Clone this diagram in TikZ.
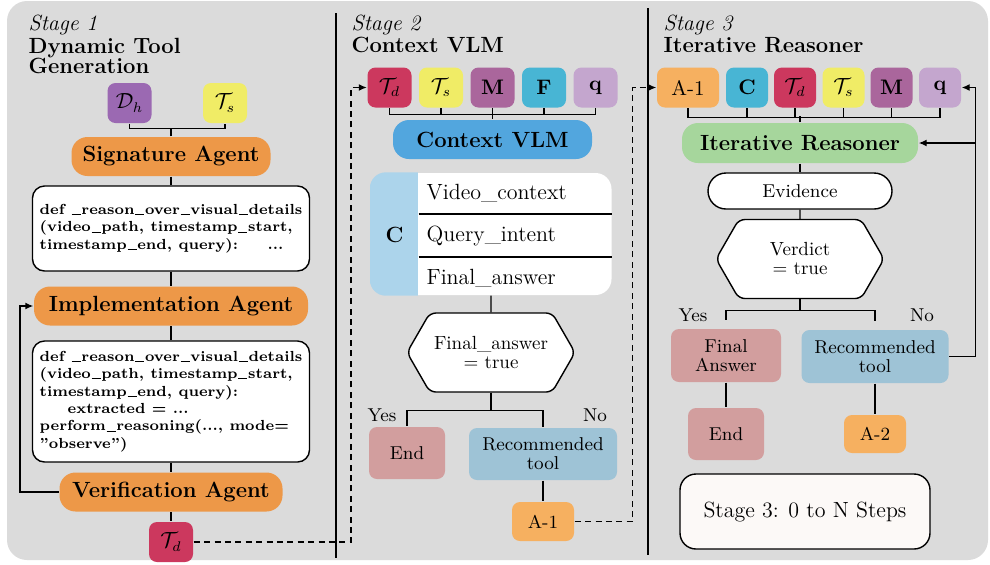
\documentclass[tikz,border=0pt]{standalone}
\usetikzlibrary{arrows.meta,shapes.symbols}
\definecolor{bggray}{RGB}{219,219,219}
\definecolor{dhpurple}{RGB}{155,105,178}
\definecolor{tsyellow}{RGB}{240,236,102}
\definecolor{tdred}{RGB}{204,56,94}
\definecolor{mpurple}{RGB}{170,102,156}
\definecolor{fcyan}{RGB}{72,181,212}
\definecolor{qlilac}{RGB}{196,166,206}
\definecolor{aorange}{RGB}{246,176,96}
\definecolor{agentorange}{RGB}{237,152,72}
\definecolor{vlmblue}{RGB}{82,166,222}
\definecolor{ctblue}{RGB}{172,212,235}
\definecolor{irgreen}{RGB}{166,214,156}
\definecolor{endpink}{RGB}{210,158,158}
\definecolor{recblue}{RGB}{158,195,214}
\definecolor{stagefill}{RGB}{252,249,247}
\newcommand{\usc}{\kern0.05em\rule[-0.08ex]{0.62em}{0.4pt}\kern0.05em}
\begin{document}
\begin{tikzpicture}[x=0.5pt,y=-0.5pt,line width=0.7pt,
  tok/.style={rounded corners=4pt, minimum width=22pt, minimum height=20pt, inner sep=0pt, font=\fontsize{10.5}{12}\selectfont},
  agent/.style={fill=agentorange, rounded corners=8pt, minimum height=19.5pt, inner sep=0pt, font=\fontsize{11}{12}\selectfont\bfseries},
  codebox/.style={draw, fill=white, rounded corners=6pt, minimum width=138.5pt, inner sep=0pt, align=left, font=\fontsize{7.3}{8.7}\selectfont\bfseries},
  flow/.style={rounded corners=4pt, inner sep=0pt, align=center, font=\fontsize{9.3}{9.5}\selectfont},
  hexa/.style={draw, fill=white, shape=signal, signal to=east and west, signal pointer angle=120, rounded corners=3pt, inner sep=0pt, minimum width=84pt, minimum height=39.5pt, align=center, font=\fontsize{9.5}{9.5}\selectfont},
  lbl/.style={inner sep=0pt, font=\fontsize{9.3}{10}\selectfont},
  head/.style={anchor=base west, inner sep=0pt, font=\fontsize{11}{12}\selectfont},
  row/.style={anchor=west, inner sep=0pt, font=\fontsize{11}{12}\selectfont},
  feed/.style={-{Latex[length=4pt,width=3.5pt]}},
  link/.style={dash pattern=on 3pt off 2.2pt, -{Latex[length=4pt,width=3.5pt]}}]

\useasboundingbox (0,0) rectangle (990,564);
\fill[bggray, rounded corners=10pt] (7,1) rectangle (988,560);
\draw (336,13) -- (336,558);
\draw (648,8) -- (648,555);

\begin{scope}
  \node[head] (s1) at (28,30) {\textit{Stage 1}};
  \node[head] (t1a) at (28,53) {\textbf{Dynamic Tool}};
  \node[head] (t1b) at (28,73) {\textbf{Generation}};

  \node[tok, fill=dhpurple] (dh) at (129.5,103) {$\mathcal{D}_h$};
  \node[tok, fill=tsyellow] (ts1) at (225,103) {$\mathcal{T}_s$};
  \node[agent, minimum width=99.5pt] (sig) at (171,156.5) {Signature Agent};
  \node[codebox, minimum height=42.5pt] (code1) at (171,228.5) {def \usc reason\usc over\usc visual\usc details\\(video\usc path, timestamp\usc start,\\timestamp\usc end, query): \quad\ ...};
  \node[agent, minimum width=137pt] (impl) at (171,306) {Implementation Agent};
  \node[codebox, minimum height=60.5pt] (code2) at (171,401.5) {def \usc reason\usc over\usc visual\usc details\\(video\usc path, timestamp\usc start,\\timestamp\usc end, query):\\\hspace*{14pt}extracted = ...\\perform\usc reasoning(..., mode=\\"observe")};
  \node[agent, minimum width=111.5pt] (verif) at (171,492) {Verification Agent};
  \node[tok, fill=tdred] (td1) at (171,542) {$\mathcal{T}_d$};

  \draw (dh.south) -- ++(0,5) -| (ts1.south);
  \draw (sig.north) -- (sig.north |- 0,128);
  \draw (sig) -- (code1);
  \draw (code1) -- (impl);
  \draw (impl) -- (code2);
  \draw (code2) -- (verif);
  \draw (verif) -- (td1);
  \draw[feed] (verif.west) -- ++(-39,0) |- (impl.west);
\end{scope}

\begin{scope}
  \node[head] (s2) at (351,30) {\textit{Stage 2}};
  \node[head] (t2) at (351,52) {\textbf{Context VLM}};

  \node[tok, fill=tdred] (td2) at (389.5,87.5) {$\mathcal{T}_d$};
  \node[tok, fill=tsyellow] (ts2) at (441,87.5) {$\mathcal{T}_s$};
  \node[tok, fill=mpurple] (m2) at (492.5,87.5) {\textbf{M}};
  \node[tok, fill=fcyan] (f2) at (544,87.5) {\textbf{F}};
  \node[tok, fill=qlilac] (q2) at (595.5,87.5) {\textbf{q}};
  \node[agent, fill=vlmblue, minimum width=99.5pt] (cvlm) at (492.5,139.5) {Context VLM};

  \draw (td2.south) -- ++(0,6) -| (q2.south);
  \foreach \n in {ts2,f2} \draw (\n.south) -- ++(0,6);
  \draw (m2) -- (cvlm);

  \node[fill=white, rounded corners=8pt, minimum width=120.5pt, minimum height=61pt, inner sep=0pt] (ctab) at (491,234) {};
  \begin{scope}
    \clip[rounded corners=8pt] (ctab.south west) rectangle (ctab.north east);
    \fill[ctblue] (ctab.south west) rectangle ([xshift=24pt]ctab.north west);
  \end{scope}
  \draw (418.5,214) -- (611.5,214);
  \draw (418.5,257) -- (611.5,257);
  \node[font=\fontsize{11}{12}\selectfont\bfseries] (cc) at (394.5,235) {C};
  \node[row] (vc) at (426,193) {Video\_context};
  \node[row] (qi) at (426,236) {Query\_intent};
  \node[row] (fan) at (426,278) {Final\_answer};

  \node[hexa] (fa2) at (491,352.5) {Final\_answer\\= true};
  \draw (ctab) -- (fa2);
  \node[flow, fill=endpink, minimum width=38pt, minimum height=26pt] (end2) at (407,453) {End};
  \node[flow, fill=recblue, minimum width=74pt, minimum height=26pt] (rec2) at (543,454) {Recommended\\tool};
  \node[flow, fill=aorange, minimum width=31pt, minimum height=19.5pt] (a12) at (543,521.5) {A-1};
  \node[lbl] (yes2) at (382,415) {Yes};
  \node[lbl] (no2) at (595,415) {No};

  \draw (fa2.south) -- ++(0,18) -| (end2.north);
  \draw (fa2.south) -- ++(0,18) -| (rec2.north);
  \draw (rec2) -- (a12);
\end{scope}

\begin{scope}
  \node[head] (s3) at (663,30) {\textit{Stage 3}};
  \node[head] (t3) at (663,52) {\textbf{Iterative Reasoner}};

  \node[tok, fill=aorange, minimum width=31pt] (a13) at (688,87.5) {A-1};
  \node[tok, fill=fcyan, minimum width=21pt] (c3) at (747,87.5) {\textbf{C}};
  \node[tok, fill=tdred, minimum width=21pt] (td3) at (795,87.5) {$\mathcal{T}_d$};
  \node[tok, fill=tsyellow, minimum width=21pt] (ts3) at (843.5,87.5) {$\mathcal{T}_s$};
  \node[tok, fill=mpurple, minimum width=21pt] (m3) at (891.5,87.5) {\textbf{M}};
  \node[tok, fill=qlilac, minimum width=21pt] (q3) at (940,87.5) {\textbf{q}};
  \node[agent, fill=irgreen, minimum width=118pt, minimum height=20pt] (ir) at (800,143) {Iterative Reasoner};

  \draw (a13.south) -- ++(0,9) -| (q3.south);
  \foreach \n in {c3,td3,ts3,m3} \draw (\n.south) -- ++(0,9);
  \draw (ir.north) -- (ir.north |- 0,116);

  \node[draw, fill=white, rounded corners=9pt, minimum width=92pt, minimum height=18pt, inner sep=0pt, font=\fontsize{9.3}{10}\selectfont] (evid) at (800,191) {Evidence};
  \node[hexa] (verd) at (800,259) {Verdict\\= true};
  \draw (ir) -- (evid);
  \draw (evid) -- (verd);

  \node[flow, fill=endpink, minimum width=55pt, minimum height=26.5pt] (fans) at (726,355.5) {Final\\Answer};
  \node[flow, fill=recblue, minimum width=73.5pt, minimum height=26.5pt] (rec3) at (875,356.5) {Recommended\\tool};
  \node[flow, fill=endpink, minimum width=38pt, minimum height=26pt] (end3) at (726,434) {End};
  \node[flow, fill=aorange, minimum width=31pt, minimum height=19pt] (a2) at (875,434) {A-2};
  \node[lbl] (yes3) at (693,315) {Yes};
  \node[lbl] (no3) at (922,315) {No};

  \draw[shorten >=4pt] (verd.south) -- ++(0,11) -| (fans.north);
  \draw[shorten >=4pt] (verd.south) -- ++(0,11) -| (rec3.north);
  \draw (fans) -- (end3);
  \draw (rec3) -- (a2);
  \draw[feed] (rec3.east) -- ++(26,0) |- (q3.east);
  \coordinate (fb) at (974.5,143);
  \draw[feed] (fb) -- (ir.east);

  \node[draw, fill=stagefill, rounded corners=8pt, minimum width=125pt, minimum height=37.5pt, font=\fontsize{11}{12}\selectfont] (steps) at (805,511.5) {Stage 3: 0 to N Steps};
\end{scope}

\draw[link] (td1.east) -- (351,542) |- (td2.west);
\draw[link] (a12.east) -- ++(58,0) |- (a13.west);
\end{tikzpicture}
\end{document}
